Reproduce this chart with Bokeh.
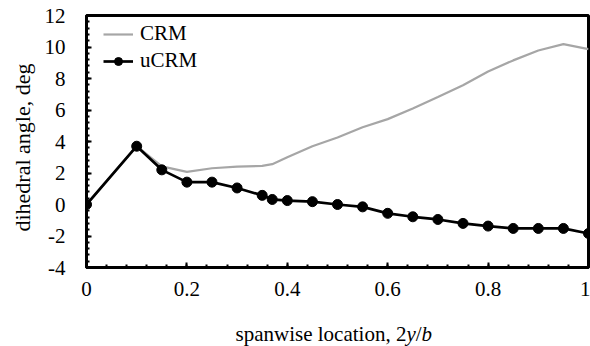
import math
from bokeh.plotting import figure
from bokeh.layouts import row, column
from bokeh.models import Range1d, Legend, LegendItem, Label, SingleIntervalTicker
from bokeh.embed import file_html
from bokeh.resources import INLINE

# spanwise stations (2y/b) and dihedral angle in degrees
span = [0, 0.1, 0.15, 0.2, 0.25, 0.3, 0.35, 0.37, 0.4, 0.45, 0.5,
        0.55, 0.6, 0.65, 0.7, 0.75, 0.8, 0.85, 0.9, 0.95, 1.0]
crm = [0, 3.7, 2.42, 2.07, 2.3, 2.4, 2.45, 2.56, 3.0, 3.7, 4.25,
       4.9, 5.42, 6.1, 6.83, 7.57, 8.45, 9.15, 9.78, 10.18, 9.87]
ucrm = [0, 3.7, 2.2, 1.42, 1.42, 1.05, 0.58, 0.32, 0.25, 0.18, 0.0,
        -0.15, -0.56, -0.78, -0.95, -1.2, -1.37, -1.52, -1.52, -1.52, -1.84]

FONT = "Liberation Serif"
FS = "21px"

TITLE_W = 40          # strip left of the chart holding the y title
MAIN_W, MAIN_H = 550, 312
XT_H = 34             # strip under the chart holding the x title


def text_strip(width, height):
    """an empty, axis-less canvas whose data units are pixels"""
    f = figure(width=width, height=height, output_backend="svg", toolbar_location=None,
               x_range=Range1d(0, width), y_range=Range1d(0, height),
               x_axis_type=None, y_axis_type=None,
               min_border_left=0, min_border_right=0, min_border_top=0, min_border_bottom=0)
    f.grid.visible = False
    f.outline_line_color = None
    f.background_fill_color = "white"
    f.border_fill_color = "white"
    return f


p = figure(width=MAIN_W, height=MAIN_H, output_backend="svg", toolbar_location=None,
           x_range=Range1d(0, 1), y_range=Range1d(-4, 12),
           min_border_left=46, min_border_right=2, min_border_top=15, min_border_bottom=45)
p.background_fill_color = "white"
p.border_fill_color = "white"
p.grid.visible = False
p.outline_line_color = "black"
p.outline_line_width = 3
p.outline_line_alpha = 1

p.xaxis.ticker = SingleIntervalTicker(interval=0.2, num_minor_ticks=5)
p.yaxis.ticker = SingleIntervalTicker(interval=2, num_minor_ticks=5)
p.xaxis.major_label_overrides = {0: "0", 1: "1"}
p.yaxis.major_label_overrides = {-2: "-2", -4: "-4"}
for ax in (p.xaxis, p.yaxis):
    ax.axis_line_width = 3
    ax.axis_line_color = "black"
    ax.major_tick_in = 5
    ax.major_tick_out = 0
    ax.minor_tick_in = 3
    ax.minor_tick_out = 0
    ax.major_tick_line_width = 2
    ax.minor_tick_line_width = 2
    ax.major_tick_line_color = "black"
    ax.minor_tick_line_color = "black"
    ax.major_label_text_font = FONT
    ax.major_label_text_font_size = FS
    ax.major_label_text_color = "black"
p.xaxis.major_label_standoff = 14
p.yaxis.major_label_standoff = 21

crm_line = p.line(span, crm, line_color="#A6A6A6", line_width=2.2)
u_line = p.line(span, ucrm, line_color="black", line_width=2.7)
u_pts = p.scatter(span, ucrm, marker="circle", size=10, fill_color="black", line_color="black")

legend = Legend(items=[LegendItem(label="CRM", renderers=[crm_line]),
                       LegendItem(label="uCRM", renderers=[u_line, u_pts])],
                location=(17, 194), orientation="vertical")
legend.border_line_alpha = 0
legend.background_fill_alpha = 0
legend.margin = 0
legend.padding = 0
legend.spacing = 2
legend.glyph_width = 30
legend.glyph_height = 20
legend.label_height = 20
legend.label_standoff = 7
legend.label_text_font = FONT
legend.label_text_font_size = FS
legend.label_text_color = "black"
p.add_layout(legend, "center")

# y title
ytitle = text_strip(TITLE_W, MAIN_H)
ytitle.add_layout(Label(x=22, y=148.5, text="dihedral angle, deg", angle=math.pi / 2,
                        text_align="center", text_baseline="middle",
                        text_font=FONT, text_font_size="22px", text_color="black"))

# x title, with the italic symbols set as separate runs
xtitle = text_strip(TITLE_W + MAIN_W, XT_H)
xoff = 235.0
parts = [("spanwise location, 2", "normal", 171.0),
         ("y", "italic", 9.3),
         ("/", "normal", 5.8),
         ("b", "italic", 10.5)]
for txt, style, w in parts:
    xtitle.add_layout(Label(x=xoff, y=13, text=txt,
                            text_align="left", text_baseline="alphabetic",
                            text_font=FONT, text_font_size=FS, text_font_style=style,
                            text_color="black"))
    xoff += w

page = column(row(ytitle, p), xtitle)
open("out.html", "w").write(file_html(page, INLINE))
